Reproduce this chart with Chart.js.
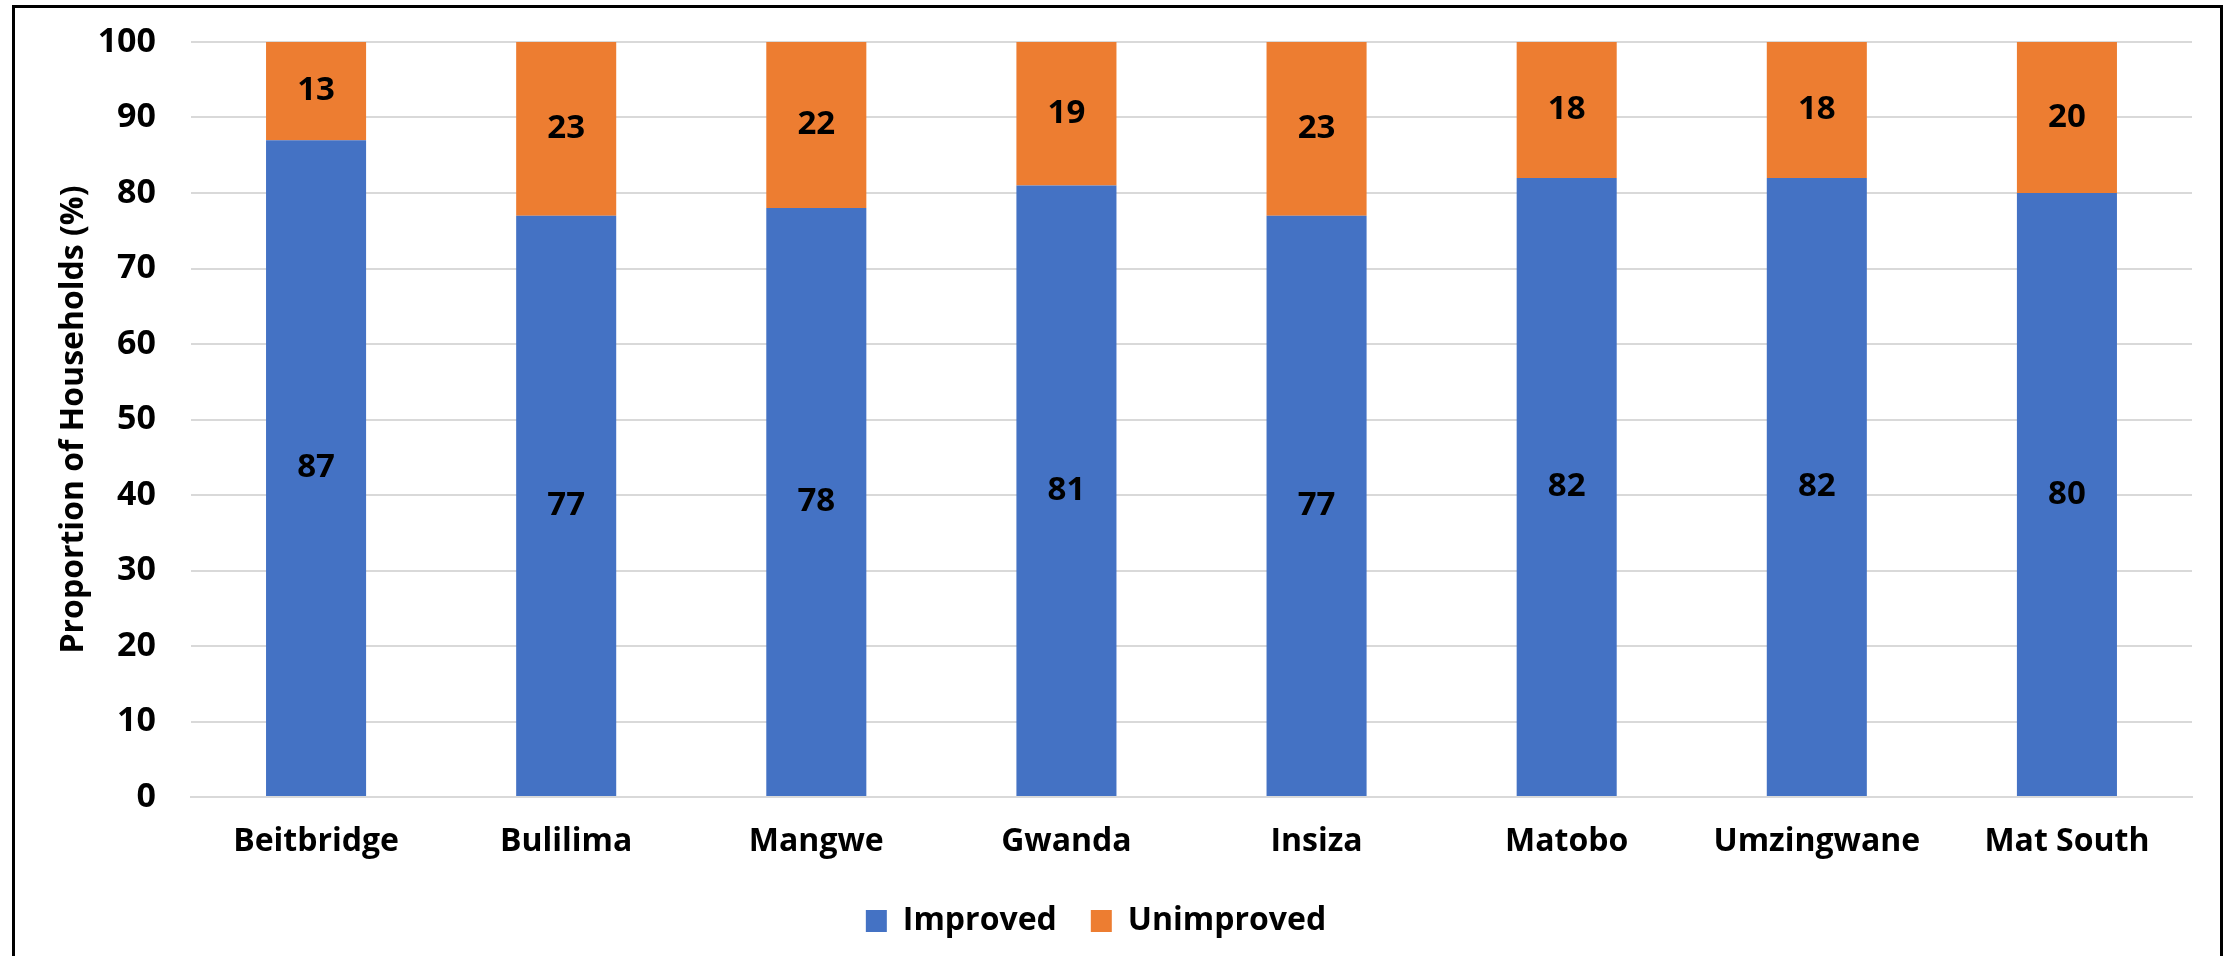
<!DOCTYPE html>
<html>
<head>
<meta charset="utf-8">
<script src="https://cdn.jsdelivr.net/npm/chart.js@4.4.1/dist/chart.umd.min.js"></script>
<style>
  html, body { margin: 0; padding: 0; background: #fff; overflow: hidden; }
  #wrap { position: relative; width: 2233px; height: 956px; }
  #frame {
    position: absolute; left: 12px; top: 5px; width: 2211px; height: 1000px;
    border: 3px solid #000; box-sizing: border-box; pointer-events: none;
  }
</style>
</head>
<body>
<div id="wrap">
  <canvas id="chart" width="2233" height="956"></canvas>
  <div id="frame"></div>
</div>
<script>
// Districts along the x axis
const districts = ['Beitbridge', 'Bulilima', 'Mangwe', 'Gwanda', 'Insiza', 'Matobo', 'Umzingwane', 'Mat South'];

// Share of households (%) per district
const improved = [87, 77, 78, 81, 77, 82, 82, 80];
const unimproved = [13, 23, 22, 19, 23, 18, 18, 20];

const yTicks = [0, 10, 20, 30, 40, 50, 60, 70, 80, 90, 100];

const FONT = "'Open Sans', 'Liberation Sans', sans-serif";
const gridColor = '#d9d9d9';

// Writes each segment's value in the middle of its bar piece
const segmentLabels = {
    id: 'segmentLabels',
    afterDatasetsDraw(chart) {
        const ctx = chart.ctx;
        ctx.save();
        ctx.font = `bold 33px ${FONT}`;
        ctx.fillStyle = '#000';
        ctx.textAlign = 'center';
        ctx.textBaseline = 'middle';
        chart.data.datasets.forEach((ds, i) => {
            const meta = chart.getDatasetMeta(i);
            meta.data.forEach((bar, j) => {
                const v = ds.data[j];
                ctx.fillText(String(v), bar.x, (bar.y + bar.base) / 2);
            });
        });
        ctx.restore();
    }
};

const ctx = document.getElementById('chart').getContext('2d');
new Chart(ctx, {
    type: 'bar',
    data: {
        labels: districts,
        datasets: [
            { label: 'Improved', data: improved, backgroundColor: '#4472c4' },
            { label: 'Unimproved', data: unimproved, backgroundColor: '#ed7d31' }
        ]
    },
    options: {
        responsive: false,
        animation: false,
        events: [],
        barPercentage: 0.4,
        categoryPercentage: 1,
        layout: { padding: { left: 0, right: 41, top: 42, bottom: 9 } },
        scales: {
            x: {
                stacked: true,
                grid: { display: false },
                border: { display: true, color: gridColor, width: 2 },
                ticks: {
                    color: '#000',
                    padding: 18,
                    maxRotation: 0,
                    font: { family: FONT, size: 32, weight: 'bold' }
                },
                afterFit(scale) { scale.height = 74; }
            },
            y: {
                stacked: true,
                min: 0,
                max: 100,
                afterBuildTicks(scale) { scale.ticks = yTicks.map(v => ({ value: v })); },
                grid: { color: gridColor, lineWidth: 2, drawTicks: false },
                border: { display: false },
                ticks: {
                    color: '#000',
                    padding: 35,
                    font: { family: FONT, size: 34, weight: 'bold' }
                },
                title: {
                    display: true,
                    text: 'Proportion of Households (%)',
                    color: '#000',
                    padding: { top: 55, bottom: 0 },
                    font: { family: FONT, size: 32, weight: 'bold' }
                },
                afterFit(scale) {
                    scale.width = 191;
                    scale.paddingTop = 0;
                    scale.paddingBottom = 0;
                }
            }
        },
        plugins: {
            legend: {
                position: 'bottom',
                labels: {
                    color: '#000',
                    boxWidth: 21,
                    boxHeight: 22,
                    padding: 34,
                    font: { family: FONT, size: 32, weight: 'bold' }
                }
            },
            tooltip: { enabled: false }
        }
    },
    plugins: [segmentLabels]
});
</script>
</body>
</html>
